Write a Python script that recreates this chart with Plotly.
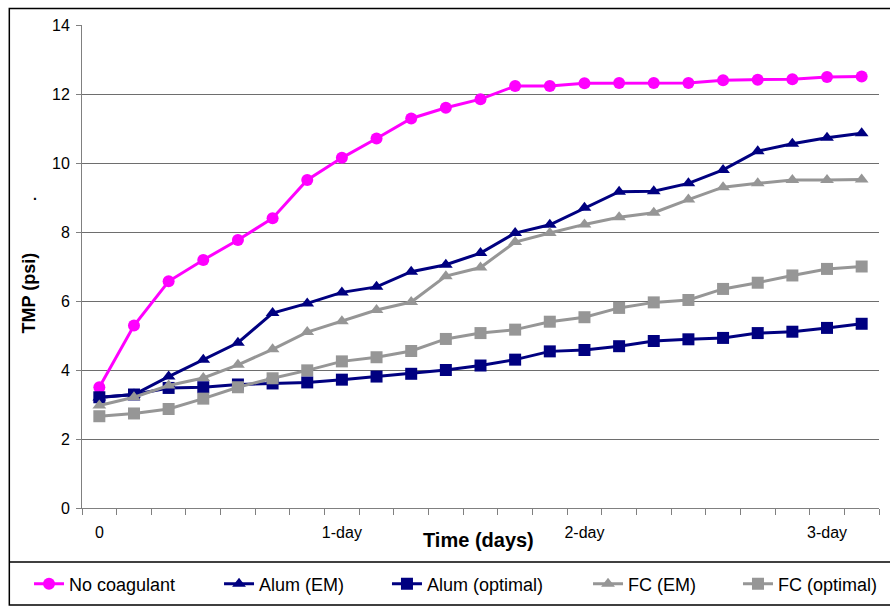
import plotly.graph_objects as go

# Sampling points along the run (about seven readings per day)
sample_no = list(range(23))
day_tick_pos = [0, 7, 14, 21]
day_tick_text = ["0", "1-day", "2-day", "3-day"]

# Trans-membrane pressure readings (psi)
no_coagulant = [3.50, 5.29, 6.57, 7.19, 7.77, 8.40, 9.51, 10.15, 10.71, 11.29, 11.60, 11.85,
                12.23, 12.23, 12.31, 12.32, 12.32, 12.32, 12.40, 12.41, 12.43, 12.49, 12.51]
alum_em = [3.20, 3.29, 3.81, 4.30, 4.79, 5.65, 5.93, 6.25, 6.41, 6.85, 7.05, 7.39,
           7.97, 8.21, 8.70, 9.17, 9.18, 9.41, 9.80, 10.34, 10.56, 10.73, 10.86]
alum_optimal = [3.21, 3.29, 3.48, 3.50, 3.58, 3.61, 3.64, 3.72, 3.81, 3.89, 4.00, 4.13,
                4.30, 4.54, 4.58, 4.69, 4.84, 4.89, 4.93, 5.07, 5.11, 5.22, 5.34]
fc_em = [2.97, 3.21, 3.55, 3.77, 4.15, 4.60, 5.10, 5.41, 5.74, 5.97, 6.72, 6.97,
         7.71, 7.97, 8.22, 8.43, 8.56, 8.94, 9.30, 9.41, 9.51, 9.51, 9.52]
fc_optimal = [2.66, 2.74, 2.87, 3.17, 3.50, 3.76, 3.99, 4.25, 4.37, 4.55, 4.90, 5.07,
              5.17, 5.40, 5.53, 5.80, 5.96, 6.03, 6.35, 6.53, 6.74, 6.93, 7.00]

series_names = ["No coagulant", "Alum (EM)", "Alum (optimal)", "FC (EM)", "FC (optimal)"]
series_values = [no_coagulant, alum_em, alum_optimal, fc_em, fc_optimal]
series_colors = ["#FF00FF", "#000080", "#000080", "#969696", "#969696"]
series_symbols = ["circle", "triangle-up", "square", "triangle-up", "square"]
series_sizes = [12, 12, 12, 12, 12]
legend_ids = ["legend", "legend2", "legend3", "legend4", "legend5"]
# legend entry anchors, as fractions of the whole figure width
legend_x = [0.0326, 0.2461, 0.4348, 0.6607, 0.8292]

FONT = "Liberation Sans, Arial, Helvetica, sans-serif"

fig = go.Figure()
for name, vals, col, sym, sz, lg in zip(series_names, series_values, series_colors,
                                        series_symbols, series_sizes, legend_ids):
    fig.add_trace(go.Scatter(
        x=sample_no, y=vals, name=name, mode="lines+markers",
        line=dict(color=col, width=3),
        marker=dict(color=col, symbol=sym, size=sz, line=dict(width=0)),
        legend=lg,
    ))

boundaries = [i - 0.5 for i in range(len(sample_no) + 1)]

fig.update_xaxes(
    range=[-0.5, len(sample_no) - 0.5],
    tickmode="array", tickvals=day_tick_pos, ticktext=day_tick_text,
    ticks="", showgrid=False, zeroline=False,
    showline=True, linecolor="#808080", linewidth=1,
    tickfont=dict(family=FONT, size=16, color="black"),
    ticklabelstandoff=10,
    minor=dict(tickmode="array", tickvals=boundaries, ticks="outside",
               ticklen=6, tickcolor="#808080", tickwidth=1, showgrid=False),
)
fig.update_yaxes(
    range=[0, 14], tickmode="linear", tick0=0, dtick=2,
    ticks="outside", ticklen=5, tickcolor="#808080",
    showgrid=True, gridcolor="#6e6e6e", gridwidth=1, zeroline=False,
    showline=True, linecolor="#808080", linewidth=1,
    tickfont=dict(family=FONT, size=16, color="black"),
    ticklabelstandoff=3,
)

legend_common = dict(orientation="h", xref="container", yref="container",
                     yanchor="middle", y=0.0395, xanchor="left",
                     bgcolor="rgba(0,0,0,0)", borderwidth=0,
                     font=dict(family=FONT, size=18, color="black"))
layout_legends = {}
for lg, lx in zip(legend_ids, legend_x):
    layout_legends[lg] = dict(legend_common, x=lx)

fig.update_layout(
    width=890, height=608,
    margin=dict(l=82, r=11, t=25, b=100),
    paper_bgcolor="white", plot_bgcolor="white",
    showlegend=True,
    font=dict(family=FONT, color="black"),
    **layout_legends,
    annotations=[
        dict(text="<b>Time (days)</b>", xref="paper", yref="paper", x=0.498, y=-0.066,
             xanchor="center", yanchor="middle", showarrow=False,
             font=dict(family=FONT, size=20, color="black")),
        dict(text="<b>TMP (psi)</b>", xref="paper", yref="paper", x=-0.066, y=0.445,
             xanchor="center", yanchor="middle", textangle=-90, showarrow=False,
             font=dict(family=FONT, size=18, color="black")),
        dict(text="<b>.</b>", xref="paper", yref="paper", x=-0.0595, y=0.648,
             xanchor="center", yanchor="middle", showarrow=False,
             font=dict(family=FONT, size=14, color="black")),
    ],
    shapes=[
        # chart frame
        dict(type="rect", xref="paper", yref="paper", x0=-0.0912, x1=1.1, y0=-0.2008, y1=1.034,
             line=dict(color="black", width=1.5), fillcolor="rgba(0,0,0,0)", layer="above"),
        # legend separator
        dict(type="line", xref="paper", yref="paper", x0=-0.0912, x1=1.1, y0=-0.1118, y1=-0.1118,
             line=dict(color="black", width=1.5), layer="above"),
    ],
)

fig.write_html("out.html")
